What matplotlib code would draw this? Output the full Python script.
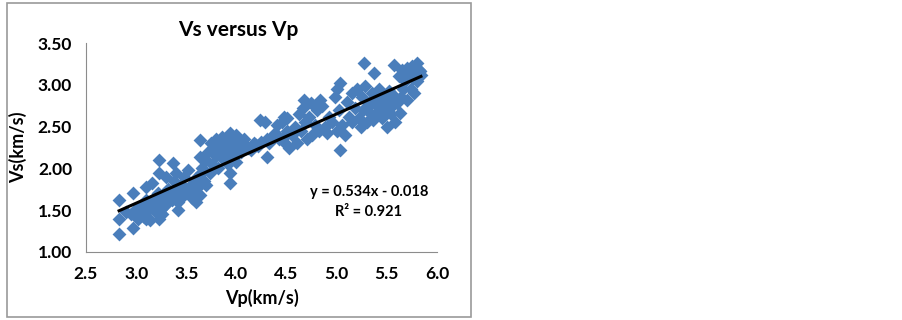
import matplotlib.pyplot as plt
from matplotlib.patches import Rectangle

plt.rcParams['font.family'] = ['Lato', 'DejaVu Sans']

# Vp (km/s) and Vs (km/s)
vp = [2.83, 2.83, 2.83, 2.97, 2.97, 3.10, 3.16, 3.23, 3.23, 3.37, 3.23, 3.10, 3.42,
      3.64, 3.64, 3.94, 3.94, 3.94, 4.24, 4.30, 4.47, 4.67, 4.83, 5.03, 5.03, 5.27,
      5.37, 5.63, 5.50, 5.57, 5.80, 5.77, 5.83,
      2.90, 2.95, 3.00, 3.02, 3.05, 3.08, 3.10, 3.12, 3.14, 3.15, 3.18, 3.20, 3.20,
      3.22, 3.24, 3.25, 3.26, 3.28, 3.30, 3.30, 3.32,
      3.35, 3.36, 3.38, 3.40, 3.40, 3.42, 3.45, 3.46, 3.48, 3.50, 3.52, 3.52, 3.55,
      3.56, 3.58, 3.60, 3.60, 3.62, 3.64, 3.65, 3.66, 3.68, 3.70, 3.70,
      3.72, 3.74, 3.75, 3.76, 3.78, 3.80, 3.80, 3.82, 3.84, 3.85, 3.86, 3.88, 3.90,
      3.90, 3.92, 3.95, 3.96, 3.98, 4.00, 4.00, 4.02, 4.05, 4.08, 4.10,
      4.15, 4.18, 4.20, 4.25, 4.28, 4.30, 4.35, 4.38, 4.40, 4.42, 4.45, 4.48, 4.50,
      4.50, 4.52, 4.55, 4.58, 4.60, 4.62,
      4.64, 4.66, 4.68, 4.70, 4.72, 4.74, 4.75, 4.78, 4.80, 4.82, 4.85, 4.88, 4.90,
      4.92, 4.95, 4.98, 5.00, 5.00, 5.02, 5.05, 5.08, 5.10,
      5.12, 5.15, 5.15, 5.18, 5.20, 5.22, 5.24, 5.25, 5.26, 5.28, 5.30, 5.32, 5.34,
      5.35, 5.36, 5.38, 5.40, 5.42, 5.44, 5.45, 5.46, 5.48, 5.50, 5.52, 5.54, 5.55,
      5.56, 5.58, 5.60, 5.62, 5.64, 5.65, 5.66, 5.68, 5.70, 5.70, 5.72, 5.74, 5.75,
      5.76, 5.78, 5.80, 5.82, 5.84,
      4.12, 4.22, 4.32, 4.40, 4.46, 4.56, 3.08, 3.18, 3.28, 3.05, 5.30, 5.40]
vs = [1.22, 1.40, 1.62, 1.29, 1.70, 1.78, 1.82, 2.10, 1.94, 2.06, 1.40, 1.40, 1.50,
      2.34, 2.14, 2.42, 1.82, 1.94, 2.58, 2.14, 2.62, 2.82, 2.82, 3.02, 2.22, 3.26,
      3.14, 2.66, 2.50, 3.24, 3.26, 2.90, 3.16,
      1.48, 1.45, 1.52, 1.40, 1.55, 1.45, 1.62, 1.50, 1.38, 1.58, 1.65, 1.55, 1.48,
      1.70, 1.60, 1.52, 1.45, 1.66, 1.58, 1.90, 1.75,
      1.68, 1.62, 1.85, 1.95, 1.72, 1.60, 1.80, 1.66, 1.90, 1.75, 1.70, 1.98, 1.80,
      1.64, 1.72, 1.88, 1.60, 1.78, 1.68, 1.95, 2.00, 1.85, 2.10, 1.80,
      2.20, 1.95, 2.30, 2.05, 2.25, 2.35, 2.15, 2.00, 2.28, 2.22, 2.38, 2.10, 2.30,
      2.20, 2.05, 2.34, 2.15, 2.25, 2.40, 2.08, 2.30, 2.20, 2.35, 2.25,
      2.22, 2.30, 2.28, 2.32, 2.55, 2.35, 2.38, 2.42, 2.52, 2.35, 2.55, 2.30, 2.45,
      2.60, 2.25, 2.40, 2.50, 2.30, 2.65,
      2.45, 2.72, 2.55, 2.35, 2.62, 2.78, 2.40, 2.52, 2.70, 2.45, 2.75, 2.50, 2.42,
      2.62, 2.55, 2.85, 2.95, 2.45, 2.70, 2.52, 2.40, 2.80,
      2.62, 2.90, 2.55, 2.72, 2.95, 2.60, 2.50, 2.85, 2.70, 2.98, 2.55, 2.78, 2.65,
      2.90, 2.58, 2.80, 2.68, 2.95, 2.75, 2.60, 2.85, 2.70, 2.80, 2.92, 2.65, 2.75,
      2.88, 2.55, 2.78, 3.10, 2.85, 3.18, 2.95, 3.05, 3.20, 2.82, 3.15, 2.95, 3.22,
      3.08, 3.20, 3.05, 3.18, 3.12,
      2.24, 2.27, 2.30, 2.40, 2.36, 2.46, 1.42, 1.50, 1.55, 1.48, 2.72, 2.76]

slope = 0.534
intercept = -0.018
r2 = 0.921

xticks = [2.5, 3.0, 3.5, 4.0, 4.5, 5.0, 5.5, 6.0]
yticks = [1.00, 1.50, 2.00, 2.50, 3.00, 3.50]

fig = plt.figure(figsize=(9.03, 3.2), dpi=100)
fig.patches.append(Rectangle((7 / 903, 3 / 320), 464 / 903, 314 / 320,
                             transform=fig.transFigure, fill=False,
                             edgecolor='#9a9a9a', linewidth=1.2))

ax = fig.add_axes([86 / 903, 68 / 320, 351 / 903, 209 / 320])
ax.scatter(vp, vs, marker='D', s=50, color='#4a7ebb', linewidths=0, zorder=2)

x0, x1 = min(vp), max(vp)
ax.plot([x0, x1], [slope * x0 + intercept, slope * x1 + intercept],
        color='black', linewidth=2.2, zorder=3)

ax.set_xlim(2.5, 6.0)
ax.set_ylim(1.0, 3.5)
ax.set_xticks(xticks)
ax.set_yticks(yticks)
ax.set_xticklabels([f'{t:.1f}' for t in xticks], fontsize=12.5, fontweight='bold')
ax.set_yticklabels([f'{t:.2f}' for t in yticks], fontsize=12.5, fontweight='bold')
ax.tick_params(length=0, pad=10)
for side in ['top', 'right']:
    ax.spines[side].set_visible(False)
for side in ['left', 'bottom']:
    ax.spines[side].set_color('#8c8c8c')

ax.set_xlabel('Vp(km/s)', fontsize=13, fontweight='bold', labelpad=5)
ax.set_ylabel('Vs(km/s)', fontsize=13, fontweight='bold', labelpad=8)
fig.text(238 / 903, 1 - 30 / 320, 'Vs versus Vp', fontsize=15, fontweight='bold',
         ha='center', va='center')
ax.text(5.32, 1.6, f'y = {slope}x - {abs(intercept)}\nR² = {r2}', fontsize=10.5,
        fontweight='bold', ha='center', va='center', linespacing=1.5)

fig.savefig('out.png', dpi=100)
